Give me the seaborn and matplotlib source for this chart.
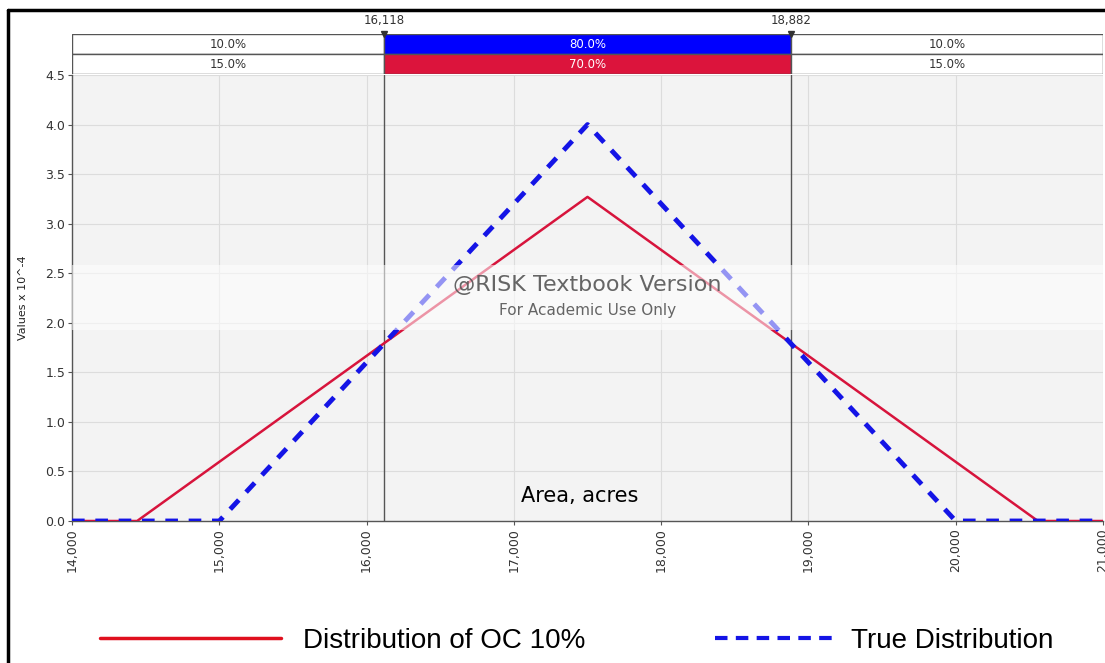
import matplotlib
matplotlib.use("Agg")
import matplotlib.pyplot as plt
import seaborn as sns
import pandas as pd
from matplotlib.lines import Line2D
from matplotlib.patches import Rectangle

# ---- data ----
oc_x = [14000, 14442, 17500, 20558, 21000]
oc_y = [0.0, 0.0, 3.27, 0.0, 0.0]
true_x = [14000, 15000, 17500, 20000, 21000]
true_y = [0.0, 0.0, 4.0, 0.0, 0.0]
markers = [16118, 18882]
marker_labels = ["16,118", "18,882"]
blue_pcts = ["10.0%", "80.0%", "10.0%"]
red_pcts = ["15.0%", "70.0%", "15.0%"]
x_ticks = [14000, 15000, 16000, 17000, 18000, 19000, 20000, 21000]
x_ticklabels = ["14,000", "15,000", "16,000", "17,000", "18,000", "19,000", "20,000", "21,000"]
y_ticks = [0.0, 0.5, 1.0, 1.5, 2.0, 2.5, 3.0, 3.5, 4.0, 4.5]

sns.set_style("whitegrid")
plt.rcParams['font.family'] = ['DejaVu Sans']

fig = plt.figure(figsize=(11.05, 6.63), dpi=100)
W, H = 1105, 663
ax = fig.add_axes([72 / W, 1 - 521 / H, (1103 - 72) / W, (521 - 75) / H])
ax.set_facecolor("#f3f3f3")

df_oc = pd.DataFrame({"x": oc_x, "y": oc_y})
df_true = pd.DataFrame({"x": true_x, "y": true_y})
sns.lineplot(data=df_oc, x="x", y="y", ax=ax, color="#d7143c", linewidth=1.8, zorder=3)
sns.lineplot(data=df_true, x="x", y="y", ax=ax, color="#1414e6", linewidth=3.5,
             dashes=False, zorder=4)
ax.lines[-1].set_dashes([2.6, 2.2])

ax.set_xlim(14000, 21000)
ax.set_ylim(0, 4.5)
ax.set_xticks(x_ticks)
ax.set_xticklabels(x_ticklabels, rotation=90, fontsize=9, color="#333333")
ax.set_yticks(y_ticks)
ax.set_yticklabels([f"{v:.1f}" for v in y_ticks], fontsize=9, color="#333333")
ax.grid(True, color="#dcdcdc", linewidth=0.8)
ax.tick_params(axis="both", length=3, color="#555555", pad=2, left=True, bottom=True)
ax.set_xlabel("")
ax.set_ylabel("Values x 10^-4", fontsize=8, color="#222222", labelpad=12)
for s in ["left", "bottom"]:
    ax.spines[s].set_color("#555555")
    ax.spines[s].set_linewidth(1.0)
for s in ["top", "right"]:
    ax.spines[s].set_visible(False)

for m in markers:
    ax.axvline(m, color="#555555", linewidth=1.0, zorder=2)

# watermark band
ax.axhspan(1.93, 2.58, color="white", alpha=0.55, zorder=5, linewidth=0)
ax.text(17500, 2.38, "@RISK Textbook Version", fontsize=16, color="#555555",
        ha="center", va="center", zorder=6, alpha=0.9)
ax.text(17500, 2.12, "For Academic Use Only", fontsize=11, color="#555555",
        ha="center", va="center", zorder=6, alpha=0.9)
ax.text(17450, 0.25, "Area, acres", fontsize=15, color="black", ha="center",
        va="center", zorder=6)

# top percentage bars
bx = fig.add_axes([72 / W, 1 - 74 / H, (1103 - 72) / W, 40 / H])
bx.set_xlim(14000, 21000)
bx.set_ylim(0, 2)
bx.axis("off")
edges = [14000] + markers + [21000]
fills_blue = ["white", "#0000ff", "white"]
fills_red = ["white", "#dc143c", "white"]
for i in range(3):
    x0, x1 = edges[i], edges[i + 1]
    bx.add_patch(Rectangle((x0, 1), x1 - x0, 1, facecolor=fills_blue[i],
                           edgecolor="#555555", linewidth=1.0))
    bx.add_patch(Rectangle((x0, 0), x1 - x0, 1, facecolor=fills_red[i],
                           edgecolor="#555555", linewidth=1.0))
    tc = "white" if i == 1 else "#333333"
    bx.text((x0 + x1) / 2, 1.5, blue_pcts[i], ha="center", va="center", fontsize=8.5, color=tc)
    bx.text((x0 + x1) / 2, 0.5, red_pcts[i], ha="center", va="center", fontsize=8.5, color=tc)
for m, lab in zip(markers, marker_labels):
    bx.plot([m], [2.0], marker="v", color="#333333", markersize=5, clip_on=False)
    bx.text(m, 2.35, lab, ha="center", va="bottom", fontsize=8.5, color="#333333",
            clip_on=False)

# outer frame (left and top)
fig.add_artist(Line2D([8 / W, 8 / W], [0, 1 - 10 / H], color="black", linewidth=2.5))
fig.add_artist(Line2D([8 / W, 1], [1 - 10 / H, 1 - 10 / H], color="black", linewidth=2.5))

# legends
fam = ["Liberation Sans Narrow", "Liberation Sans", "DejaVu Sans"]
h1 = Line2D([], [], color="#e0101e", linewidth=2.5)
h2 = Line2D([], [], color="#1414e6", linewidth=3, dashes=[3, 2])
lg1 = fig.legend([h1], ["Distribution of OC 10%"], loc="center left",
                 bbox_to_anchor=(100 / W, 1 - 641 / H), frameon=False,
                 handlelength=6.5, handletextpad=0.8, borderpad=0,
                 borderaxespad=0, prop={"family": fam, "size": 20}, labelcolor="black")
lg2 = fig.legend([h2], ["True Distribution"], loc="center left",
                 bbox_to_anchor=(715 / W, 1 - 641 / H), frameon=False,
                 handlelength=4.3, handletextpad=0.6, borderpad=0,
                 borderaxespad=0, prop={"family": fam, "size": 20}, labelcolor="black")

fig.savefig("out.png", dpi=100)
